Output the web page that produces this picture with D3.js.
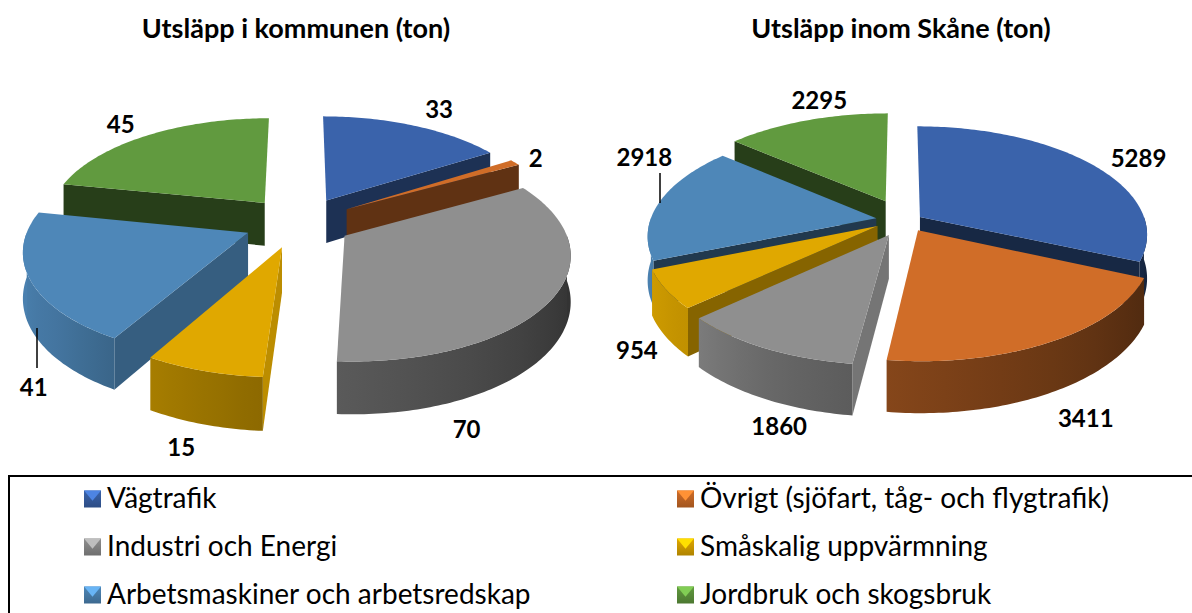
<!DOCTYPE html>
<html>
<head>
<meta charset="utf-8">
<script src="https://d3js.org/d3.v7.min.js"></script>
<style>
  html, body { margin: 0; padding: 0; background: #fff; }
  svg { display: block; }
</style>
</head>
<body>
<svg id="chart" width="1192" height="613"></svg>
<script>
const categories = [
  'Vägtrafik',
  'Övrigt (sjöfart, tåg- och flygtrafik)',
  'Industri och Energi',
  'Småskalig uppvärmning',
  'Arbetsmaskiner och arbetsredskap',
  'Jordbruk och skogsbruk'
];
const valuesKommun = [33, 2, 70, 15, 41, 45];
const valuesSkane = [5289, 3411, 1860, 954, 2918, 2295];
const titleKommun = 'Utsläpp i kommunen (ton)';
const titleSkane = 'Utsläpp inom Skåne (ton)';

const colors = ['#3a63ab', '#d06d28', '#8f8f8f', '#e0a800', '#4e87b8', '#619a3f'];

const width = 1192;
const height = 613;
const svg = d3.select('#chart');
const defs = svg.append('defs');

// shading of the walls
const sideShade = d3.scaleLinear()
  .domain([90, 119, 137, 150, 158, 190, 230])
  .range([0.86, 0.7, 0.6, 0.47, 0.42, 0.4, 0.4])
  .clamp(true);
const rimShade = d3.scaleLinear()
  .domain([90, 120, 187, 209, 227, 247, 270])
  .range([0.36, 0.4, 0.64, 0.74, 0.86, 0.92, 0.95])
  .clamp(true);

const shade = (c, k) => {
  const r = d3.rgb(c);
  return d3.rgb(r.r * k, r.g * k, r.b * k).formatHex();
};
const deg = a => a * 180 / Math.PI;
const rad = a => a * Math.PI / 180;
const line = d3.line();

function drawPie(name, values, opt) {
  const g = svg.append('g').attr('class', 'pie-' + name);
  const arcs = d3.pie().sort(null).value(d => d)(values);

  const project = (d, i, theta, r, z) => {
    const mid = (d.startAngle + d.endAngle) / 2;
    const e = opt.explode[i];
    const gx = r * Math.sin(theta) + e * Math.sin(mid);
    const gy = -(r * Math.cos(theta) + e * Math.cos(mid));
    const w = 1 / (1 - opt.persp * gy);
    return [opt.cx + gx * w + opt.shift[i][0], opt.cy + gy * w * opt.tilt + z * w + opt.shift[i][1]];
  };

  const arcPoints = (d, i, a0, a1, z) => {
    const n = Math.max(2, Math.ceil(deg(a1 - a0)));
    return d3.range(n + 1).map(k => project(d, i, a0 + (a1 - a0) * k / n, opt.radius, z));
  };

  // far slices first
  const order = arcs.map((d, i) => i).sort((a, b) => {
    const depth = d => {
      const m = (arcs[d].startAngle + arcs[d].endAngle) / 2;
      return project(arcs[d], d, m, opt.radius * 0.6, 0)[1];
    };
    return depth(a) - depth(b);
  });

  order.forEach(i => {
    const d = arcs[i];
    const color = colors[i];
    const apexTop = project(d, i, 0, 0, 0);
    const apexLow = project(d, i, 0, 0, opt.depth);

    // radial side walls
    if (Math.sin(d.startAngle) < 0) {
      const n = deg(d.startAngle) - 90;
      g.append('path')
        .attr('d', line([apexTop, project(d, i, d.startAngle, opt.radius, 0),
          project(d, i, d.startAngle, opt.radius, opt.depth), apexLow]) + 'Z')
        .attr('fill', shade(color, sideShade(n)));
    }
    if (Math.sin(d.endAngle) > 0) {
      const n = deg(d.endAngle) + 90;
      g.append('path')
        .attr('d', line([apexTop, project(d, i, d.endAngle, opt.radius, 0),
          project(d, i, d.endAngle, opt.radius, opt.depth), apexLow]) + 'Z')
        .attr('fill', shade(color, sideShade(n)));
    }

    // outer rim, only the part that faces the viewer
    const a0 = Math.max(d.startAngle, rad(90));
    const a1 = Math.min(d.endAngle, rad(270));
    if (a1 > a0) {
      const top = arcPoints(d, i, a0, a1, 0);
      const low = arcPoints(d, i, a0, a1, opt.depth);
      const id = `rim-${name}-${i}`;
      const x0 = top[0][0];
      const x1 = top[top.length - 1][0];
      const grad = defs.append('linearGradient')
        .attr('id', id)
        .attr('gradientUnits', 'userSpaceOnUse')
        .attr('x1', x0).attr('x2', x1).attr('y1', 0).attr('y2', 0);
      d3.range(7).forEach(k => {
        const a = a0 + (a1 - a0) * k / 6;
        const x = project(d, i, a, opt.radius, 0)[0];
        grad.append('stop')
          .attr('offset', x1 === x0 ? 0 : (x - x0) / (x1 - x0))
          .attr('stop-color', shade(color, rimShade(deg(a))));
      });
      g.append('path')
        .attr('d', line(top.concat(low.reverse())) + 'Z')
        .attr('fill', `url(#${id})`);
    }

    // top face
    g.append('path')
      .attr('d', line([apexTop].concat(arcPoints(d, i, d.startAngle, d.endAngle, 0))) + 'Z')
      .attr('fill', color);
  });

  // value labels
  arcs.forEach((d, i) => {
    const mid = (d.startAngle + d.endAngle) / 2;
    const p = project(d, i, mid, opt.radius * 1.12, Math.cos(mid) < 0 ? opt.depth : 0);
    g.append('text')
      .attr('x', p[0] + opt.labelNudge[i][0])
      .attr('y', p[1] + opt.labelNudge[i][1])
      .attr('text-anchor', 'middle')
      .attr('dominant-baseline', 'central')
      .attr('font-family', 'Lato, sans-serif')
      .attr('font-weight', 700)
      .attr('font-size', 24)
      .attr('fill', '#000')
      .text(values[i]);
  });

  // title
  svg.append('text')
    .attr('x', opt.titleX)
    .attr('y', 38)
    .attr('text-anchor', 'middle')
    .attr('font-family', 'Lato, sans-serif')
    .attr('font-weight', 700)
    .attr('font-size', 27)
    .attr('fill', '#000')
    .text(name === 'kommun' ? titleKommun : titleSkane);
}

drawPie('kommun', valuesKommun, {
  cx: 298, cy: 222, radius: 218, tilt: 0.47, persp: 0.00068, depth: 44,
  explode: [54, 54, 54, 54, 54, 54],
  shift: [[3, 0], [3, 0], [0, 0], [0, 0], [0, 0], [0, 0]],
  labelNudge: [[16, -9], [2, 0], [-114, 73], [-11, 3], [32, 53], [-14, -5]],
  titleX: 296
});
drawPie('skane', valuesSkane, {
  cx: 898, cy: 220, radius: 226, tilt: 0.47, persp: 0.00068, depth: 43,
  explode: [24, 32, 26, 24, 22, 40],
  shift: [[2, 3], [4, -3], [3, 4], [0, 0], [0, 0], [4, -2]],
  labelNudge: [[28, -1], [15, 8], [32, 9], [-1, 4], [10, -43], [21, -13]],
  titleX: 901
});

// legend box: only top and left edges are in the picture
svg.append('path')
  .attr('d', `M9,${height}V476H${width}`)
  .attr('fill', 'none')
  .attr('stroke', '#000')
  .attr('stroke-width', 2);

const legendX = d3.scalePoint().domain([0, 1]).range([84, 677]);
const legendY = d3.scalePoint().domain([0, 1, 2]).range([499, 595]);
const sw = 17;

categories.forEach((c, i) => {
  const col = i % 2;
  const row = Math.floor(i / 2);
  const leg = svg.append('g')
    .attr('transform', `translate(${legendX(col)},${legendY(row) - sw / 2})`);
  const color = colors[i];
  const id = `swatch-${i}`;
  const grad = defs.append('linearGradient')
    .attr('id', id).attr('x1', 0).attr('x2', 0).attr('y1', 0).attr('y2', 1);
  grad.append('stop').attr('offset', 0).attr('stop-color', color);
  grad.append('stop').attr('offset', 1).attr('stop-color', d3.rgb(color).darker(0.7).formatHex());
  leg.append('rect')
    .attr('width', sw).attr('height', sw)
    .attr('fill', `url(#${id})`);
  // lighter bevel on the upper side of the marker
  leg.append('path')
    .attr('d', line([[0, 0], [sw, 0], [sw / 2, sw * 0.6]]) + 'Z')
    .attr('fill', d3.rgb(color).brighter(0.8).formatHex());
  svg.append('text')
    .attr('x', legendX(col) + 23)
    .attr('y', legendY(row) + 9)
    .attr('font-family', 'Lato, sans-serif')
    .attr('font-size', 28)
    .attr('fill', '#000')
    .text(c);
});

// leader lines
[[37, 328, 37, 368], [660, 173, 660, 203]].forEach(l => {
  svg.append('line')
    .attr('x1', l[0]).attr('y1', l[1]).attr('x2', l[2]).attr('y2', l[3])
    .attr('stroke', '#000').attr('stroke-width', 1.5);
});
</script>
</body>
</html>
